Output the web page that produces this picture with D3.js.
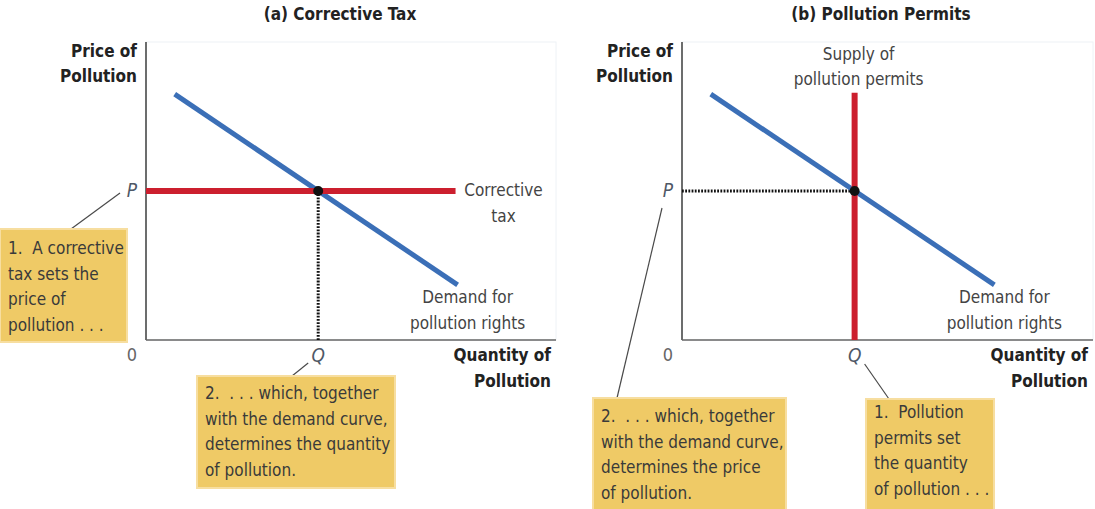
<!DOCTYPE html>
<html>
<head>
<meta charset="utf-8">
<script src="https://cdn.jsdelivr.net/npm/d3@7"></script>
<style>
  body { margin: 0; background: #fff; }
  text { font-family: "Liberation Sans Narrow", "DejaVu Sans Condensed", "Roboto", sans-serif; font-stretch: condensed; }
</style>
</head>
<body>
<svg id="chart" width="1095" height="509"></svg>
<script>
// demand for pollution rights (same curve in both panels)
var demand = [{q: 0.7, p: 8.25}, {q: 7.6, p: 1.85}];
var eqP = 5.0, eqQ = 4.2;
var taxEnd = 7.55;       // corrective tax line runs to here
var supplyTop = 8.3;     // top of the permit supply line

var titles = ["(a) Corrective Tax", "(b) Pollution Permits"];
var yTitle = ["Price of", "Pollution"];
var xTitle = ["Quantity of", "Pollution"];
var demandLabel = ["Demand for", "pollution rights"];
var taxLabel = ["Corrective", "tax"];
var supplyLabel = ["Supply of", "pollution permits"];
var noteA1 = ["1.\u00a0\u00a0A corrective", "tax sets the", "price of", "pollution . . ."];
var noteA2 = ["2.\u00a0\u00a0. . . which, together", "with the demand curve,", "determines the quantity", "of pollution."];
var noteB1 = ["1.\u00a0\u00a0Pollution", "permits set", "the quantity", "of pollution . . ."];
var noteB2 = ["2.\u00a0\u00a0. . . which, together", "with the demand curve,", "determines the price", "of pollution."];

var svg = d3.select("#chart");
var BLUE = "#3b6fb7", RED = "#cc1f2e", BOX = "#efca66", BOXLINE = "#f7dea0";

function multiLine(g, lines, x, y, step, anchor) {
    var t = g.append("text").attr("text-anchor", anchor);
    lines.forEach(function(s, i) {
        t.append("tspan").attr("x", x).attr("y", y + i * step).text(s);
    });
    return t;
}

function note(lines, x, y, w, h, ty) {
    svg.append("rect")
        .attr("x", x).attr("y", y).attr("width", w).attr("height", h)
        .attr("fill", BOX).attr("stroke", BOXLINE).attr("stroke-width", 2);
    multiLine(svg, lines, x + 8, ty, 25.5, "start")
        .attr("font-size", 17).attr("fill", "#3a3a3a").attr("dominant-baseline", "middle");
}

function leader(x1, y1, x2, y2) {
    svg.append("line").attr("x1", x1).attr("y1", y1).attr("x2", x2).attr("y2", y2)
        .attr("stroke", "#4a4a4a").attr("stroke-width", 1.2);
}

function panel(i, left, right, titleX) {
    var x = d3.scaleLinear().domain([0, 10]).range([left, right]);
    var y = d3.scaleLinear().domain([0, 10]).range([340, 42]);
    var g = svg.append("g");
    var line = d3.line().x(function(d) { return x(d.q); }).y(function(d) { return y(d.p); });

    g.append("text").attr("x", titleX).attr("y", 15)
        .attr("text-anchor", "middle").attr("dominant-baseline", "middle")
        .attr("font-weight", "bold").attr("font-size", 17).attr("fill", "#222")
        .text(titles[i]);

    // faint plot frame
    g.append("rect").attr("x", x(0)).attr("y", y(10)).attr("width", x(10) - x(0)).attr("height", y(0) - y(10))
        .attr("fill", "none").attr("stroke", "#eef2f6").attr("stroke-width", 1);

    // axes
    g.append("line").attr("x1", x(0)).attr("x2", x(0)).attr("y1", y(10)).attr("y2", y(0))
        .attr("stroke", "#4a4a4a").attr("stroke-width", 1.6);
    g.append("line").attr("x1", x(0)).attr("x2", x(10)).attr("y1", y(0)).attr("y2", y(0))
        .attr("stroke", "#666").attr("stroke-width", 1.6);

    multiLine(g, yTitle, x(0) - 9, 52, 25, "end").attr("dominant-baseline", "middle")
        .attr("font-weight", "bold").attr("font-size", 17).attr("fill", "#222");
    multiLine(g, xTitle, x(10) - 5, 356, 26, "end").attr("dominant-baseline", "middle")
        .attr("font-weight", "bold").attr("font-size", 17).attr("fill", "#222");

    g.append("text").attr("x", x(0) - 14).attr("y", y(0) + 16).attr("text-anchor", "middle")
        .attr("dominant-baseline", "middle").attr("font-size", 18).attr("fill", "#666").text("0");
    g.append("text").attr("x", x(0) - 14).attr("y", y(eqP)).attr("text-anchor", "middle")
        .attr("dominant-baseline", "middle").attr("font-size", 19).attr("font-style", "italic")
        .attr("fill", "#4f5866").text("P");
    g.append("text").attr("x", x(eqQ)).attr("y", y(0) + 16).attr("text-anchor", "middle")
        .attr("dominant-baseline", "middle").attr("font-size", 19).attr("font-style", "italic")
        .attr("fill", "#4f5866").text("Q");

    var d1;
    if (i === 0) {
        d1 = g.append("path").attr("d", line([{q: eqQ, p: eqP}, {q: eqQ, p: 0}]));
    } else {
        d1 = g.append("path").attr("d", line([{q: 0, p: eqP}, {q: eqQ, p: eqP}]));
    }
    d1.attr("fill", "none").attr("stroke", "#111").attr("stroke-width", 3)
        .attr("stroke-dasharray", "1.8,1.4");

    g.append("path").attr("d", line(demand)).attr("fill", "none")
        .attr("stroke", BLUE).attr("stroke-width", 5);

    if (i === 0) {
        g.append("path").attr("d", line([{q: 0, p: eqP}, {q: taxEnd, p: eqP}]))
            .attr("fill", "none").attr("stroke", RED).attr("stroke-width", 6);
        multiLine(g, taxLabel, x(taxEnd) + 48, y(eqP), 26, "middle").attr("dominant-baseline", "middle")
            .attr("font-size", 17).attr("fill", "#444");
    } else {
        g.append("path").attr("d", line([{q: eqQ, p: 0}, {q: eqQ, p: supplyTop}]))
            .attr("fill", "none").attr("stroke", RED).attr("stroke-width", 6);
        multiLine(g, supplyLabel, x(eqQ) + 4, 55, 25, "middle").attr("dominant-baseline", "middle")
            .attr("font-size", 17).attr("fill", "#444");
    }

    multiLine(g, demandLabel, x(demand[1].q) + 10, 298, 26, "middle").attr("dominant-baseline", "middle")
        .attr("font-size", 17).attr("fill", "#444");

    g.append("circle").attr("cx", x(eqQ)).attr("cy", y(eqP)).attr("r", 5).attr("fill", "#111");
    return {x: x, y: y};
}

var a = panel(0, 146, 556, 340);
var b = panel(1, 682, 1093, 881);

// callouts, panel a
leader(71, 229, a.x(0) - 26, a.y(eqP) + 2);
note(noteA1, 0, 229, 127, 113, 249);
leader(292, 376, a.x(eqQ) - 10, a.y(0) + 23);
note(noteA2, 197, 376, 198, 112, 394);

// callouts, panel b
leader(617, 398, b.x(0) - 20, b.y(eqP) + 17);
note(noteB2, 593, 398, 193, 120, 417);
leader(b.x(eqQ) + 10, b.y(0) + 24, 889, 399);
note(noteB1, 866, 399, 128, 120, 413);
</script>
</body>
</html>
